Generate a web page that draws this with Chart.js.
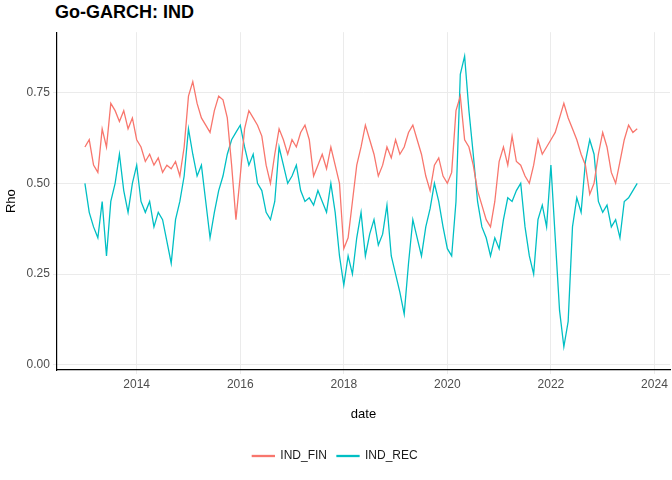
<!DOCTYPE html>
<html lang="en">
<head>
<meta charset="UTF-8">
<title>Go-GARCH: IND</title>
<script src="https://cdn.jsdelivr.net/npm/chart.js"></script>
<style>
  body { margin: 0; background: #fff; font-family: "Liberation Sans", Arial, sans-serif; }
  #wrap { width: 672px; height: 480px; position: relative; }
  h1 { position: absolute; left: 55px; top: 2px; margin: 0; font-size: 18px; font-weight: bold; color: #000; }
  #chart { position: absolute; left: 0; top: 22px; }
</style>
</head>
<body>
<div id="wrap">
  <h1>Go-GARCH: IND</h1>
  <canvas id="chart" width="672" height="458"></canvas>
</div>
<script>
// monthly readings, Jan 2013 .. Sep 2023
const startYear = 2013;
const indFin = [
  0.60,0.62,0.55,0.53,0.65,0.60,0.72,0.70,0.67,0.70,0.65,0.68,
  0.62,0.60,0.56,0.58,0.55,0.57,0.53,0.55,0.54,0.56,0.52,0.60,
  0.74,0.78,0.72,0.68,0.66,0.64,0.70,0.74,0.73,0.68,0.55,0.40,
  0.52,0.65,0.70,0.68,0.66,0.63,0.55,0.50,0.58,0.65,0.62,0.58,
  0.62,0.60,0.64,0.66,0.62,0.52,0.55,0.58,0.54,0.60,0.55,0.50,
  0.32,0.35,0.45,0.55,0.60,0.66,0.62,0.58,0.52,0.55,0.60,0.57,
  0.62,0.58,0.60,0.64,0.66,0.62,0.58,0.52,0.48,0.55,0.57,0.52,
  0.50,0.53,0.70,0.74,0.62,0.60,0.55,0.48,0.44,0.40,0.38,0.45,
  0.56,0.60,0.55,0.63,0.56,0.55,0.52,0.50,0.55,0.62,0.58,0.60,
  0.62,0.64,0.68,0.72,0.68,0.65,0.62,0.58,0.55,0.47,0.50,0.58,
  0.64,0.60,0.53,0.50,0.56,0.62,0.66,0.64,0.65
];
const indRec = [
  0.50,0.42,0.38,0.35,0.45,0.30,0.45,0.50,0.58,0.48,0.42,0.50,
  0.55,0.45,0.42,0.45,0.38,0.42,0.40,0.34,0.28,0.40,0.45,0.52,
  0.65,0.58,0.52,0.55,0.45,0.35,0.42,0.48,0.52,0.58,0.62,0.64,
  0.66,0.60,0.55,0.58,0.50,0.48,0.42,0.40,0.45,0.60,0.55,0.50,
  0.52,0.55,0.48,0.45,0.46,0.44,0.48,0.45,0.42,0.50,0.42,0.30,
  0.22,0.30,0.25,0.35,0.42,0.30,0.36,0.40,0.33,0.36,0.44,0.30,
  0.25,0.20,0.14,0.28,0.40,0.35,0.30,0.38,0.43,0.50,0.45,0.38,
  0.32,0.30,0.45,0.80,0.85,0.70,0.58,0.45,0.38,0.35,0.30,0.35,
  0.32,0.40,0.46,0.45,0.48,0.50,0.38,0.30,0.25,0.40,0.44,0.38,
  0.55,0.35,0.15,0.05,0.12,0.38,0.46,0.42,0.56,0.62,0.58,0.45,
  0.42,0.44,0.38,0.40,0.35,0.45,0.46,0.48,0.50
];
const xTicks = [2014, 2016, 2018, 2020, 2022, 2024];
const yTicks = [0.00, 0.25, 0.50, 0.75];

const toPts = arr => arr.map((v, i) => ({ x: startYear + i / 12, y: v }));

new Chart(document.getElementById('chart'), {
  type: 'line',
  data: {
    datasets: [
      { label: 'IND_FIN', data: toPts(indFin), borderColor: '#F8766D', backgroundColor: '#F8766D', borderWidth: 1.3, pointRadius: 0, tension: 0 },
      { label: 'IND_REC', data: toPts(indRec), borderColor: '#00BFC4', backgroundColor: '#00BFC4', borderWidth: 1.3, pointRadius: 0, tension: 0 }
    ]
  },
  options: {
    responsive: false,
    animation: false,
    layout: { padding: { left: 0, right: 2, top: 0, bottom: 8 } },
    plugins: {
      legend: {
        position: 'bottom',
        labels: { boxWidth: 22, boxHeight: 1, padding: 10, color: '#1a1a1a', font: { size: 12, family: 'Liberation Sans' } }
      },
      tooltip: { enabled: false }
    },
    scales: {
      x: {
        type: 'linear', min: 2012.46, max: 2024.3,
        afterBuildTicks: ax => { ax.ticks = xTicks.map(v => ({ value: v })); },
        ticks: { color: '#4d4d4d', font: { size: 12 }, callback: v => String(v) },
        grid: { color: '#ebebeb', drawTicks: true, tickLength: 4 },
        border: { color: '#000', width: 1.2 },
        title: { display: true, text: 'date', color: '#000', font: { size: 13 }, padding: { top: 12, bottom: 18 } }
      },
      y: {
        min: -0.014, max: 0.916,
        afterBuildTicks: ax => { ax.ticks = yTicks.map(v => ({ value: v })); },
        ticks: { color: '#4d4d4d', font: { size: 12 }, callback: v => v.toFixed(2) },
        grid: { color: '#ebebeb', tickLength: 4 },
        border: { color: '#000', width: 1.2 },
        title: { display: true, text: 'Rho', color: '#000', font: { size: 13 } }
      }
    }
  }
});
</script>
</body>
</html>
